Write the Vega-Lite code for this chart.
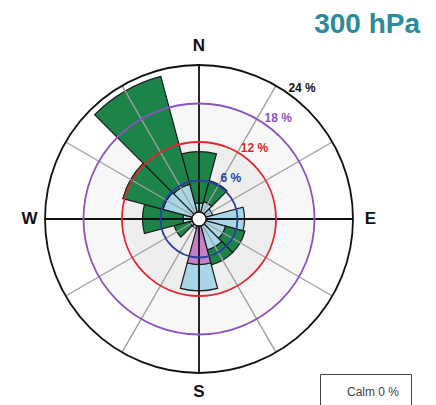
{
  "$schema": "https://vega.github.io/schema/vega-lite/v6.json",
  "autosize": "none",
  "width": 398,
  "height": 366,
  "padding": {"left": 0, "top": 36, "right": 38, "bottom": 3},
  "background": "white",
  "config": {"view": {"stroke": null}, "font": "Liberation Sans"},
  "title": {"text": "300 hPa", "anchor": "end", "frame": "group", "fontSize": 28, "fontWeight": "bold", "color": "#2a8c9a", "font": "Liberation Sans", "dx": 22, "dy": 32, "baseline": "alphabetic", "offset": 7},
  "resolve": {"scale": {"fill": "independent", "stroke": "independent", "strokeWidth": "independent"}},
  "layer": [
    {
      "data": {"values": [{"ring": "r18", "r": 18}, {"ring": "r12", "r": 12}]},
      "mark": {"type": "arc", "theta": 0, "theta2": 6.2832},
      "encoding": {
        "radius": {"field": "r", "type": "quantitative", "stack": null, "scale": {"type": "linear", "domain": [0, 24], "range": [0, 154], "zero": true}},
        "fill": {"field": "ring", "type": "nominal", "scale": {"domain": ["r18", "r12"], "range": ["#f7f7f7", "#eeeeee"]}, "legend": null},
        "order": {"field": "r", "sort": "descending"}
      }
    },
    {
      "data": {"values": [
        {"dir": "N", "from": 345, "to": 375, "cat": "c1", "r0": 0, "r1": 0.8},
        {"dir": "N", "from": 345, "to": 375, "cat": "c2", "r0": 0.8, "r1": 2.5},
        {"dir": "N", "from": 345, "to": 375, "cat": "c3", "r0": 2.5, "r1": 10.5},
        {"dir": "30", "from": 15, "to": 45, "cat": "c1", "r0": 0, "r1": 0.8},
        {"dir": "30", "from": 15, "to": 45, "cat": "c2", "r0": 0.8, "r1": 2.8},
        {"dir": "30", "from": 15, "to": 45, "cat": "c3", "r0": 2.8, "r1": 6.2},
        {"dir": "60", "from": 45, "to": 75, "cat": "c1", "r0": 0, "r1": 0.6},
        {"dir": "60", "from": 45, "to": 75, "cat": "c2", "r0": 0.6, "r1": 2.2},
        {"dir": "E", "from": 75, "to": 105, "cat": "c1", "r0": 0, "r1": 0.8},
        {"dir": "E", "from": 75, "to": 105, "cat": "c2", "r0": 0.8, "r1": 7.1},
        {"dir": "120", "from": 105, "to": 135, "cat": "c2", "r0": 0, "r1": 4.3},
        {"dir": "120", "from": 105, "to": 135, "cat": "c3", "r0": 4.3, "r1": 7.4},
        {"dir": "150", "from": 135, "to": 165, "cat": "c1", "r0": 0, "r1": 0.8},
        {"dir": "150", "from": 135, "to": 165, "cat": "c2", "r0": 0.8, "r1": 5.0},
        {"dir": "150", "from": 135, "to": 165, "cat": "c3", "r0": 5.0, "r1": 7.4},
        {"dir": "S", "from": 165, "to": 195, "cat": "c1", "r0": 0, "r1": 7.1},
        {"dir": "S", "from": 165, "to": 195, "cat": "c2", "r0": 7.1, "r1": 11.2},
        {"dir": "210", "from": 195, "to": 225, "cat": "c1", "r0": 0, "r1": 0.7},
        {"dir": "210", "from": 195, "to": 225, "cat": "c2", "r0": 0.7, "r1": 1.5},
        {"dir": "240", "from": 225, "to": 255, "cat": "c2", "r0": 0, "r1": 1.5},
        {"dir": "240", "from": 225, "to": 255, "cat": "c3", "r0": 1.5, "r1": 4.0},
        {"dir": "W", "from": 255, "to": 285, "cat": "c2", "r0": 0, "r1": 2.5},
        {"dir": "W", "from": 255, "to": 285, "cat": "c3", "r0": 2.5, "r1": 8.8},
        {"dir": "300", "from": 285, "to": 315, "cat": "c1", "r0": 0, "r1": 0.8},
        {"dir": "300", "from": 285, "to": 315, "cat": "c2", "r0": 0.8, "r1": 5.8},
        {"dir": "300", "from": 285, "to": 315, "cat": "c3", "r0": 5.8, "r1": 12.3},
        {"dir": "330", "from": 315, "to": 345, "cat": "c1", "r0": 0, "r1": 1.0},
        {"dir": "330", "from": 315, "to": 345, "cat": "c2", "r0": 1.0, "r1": 5.6},
        {"dir": "330", "from": 315, "to": 345, "cat": "c3", "r0": 5.6, "r1": 23.0}
      ]},
      "mark": {"type": "arc", "stroke": "#1a1a1a", "strokeWidth": 1.2},
      "encoding": {
        "theta": {"field": "from", "type": "quantitative", "stack": null, "scale": {"type": "linear", "domain": [0, 360], "range": [0, 6.283185], "zero": true}},
        "theta2": {"field": "to"},
        "radius": {"field": "r1", "type": "quantitative", "stack": null, "scale": {"type": "linear", "domain": [0, 24], "range": [0, 154], "zero": true}},
        "radius2": {"field": "r0"},
        "fill": {"field": "cat", "type": "nominal", "scale": {"domain": ["c1", "c2", "c3"], "range": ["#c47fc6", "#a7d7e6", "#1c8448"]}, "legend": null}
      }
    },
    {
      "data": {"values": [
        {"dir": 0, "kind": "major", "r": 24}, {"dir": 90, "kind": "major", "r": 24},
        {"dir": 180, "kind": "major", "r": 24}, {"dir": 270, "kind": "major", "r": 24},
        {"dir": 30, "kind": "minor", "r": 24}, {"dir": 60, "kind": "minor", "r": 24},
        {"dir": 120, "kind": "minor", "r": 24}, {"dir": 150, "kind": "minor", "r": 24},
        {"dir": 210, "kind": "minor", "r": 24}, {"dir": 240, "kind": "minor", "r": 24},
        {"dir": 300, "kind": "minor", "r": 24}, {"dir": 330, "kind": "minor", "r": 24}
      ]},
      "mark": {"type": "arc", "fill": null},
      "encoding": {
        "theta": {"field": "dir", "type": "quantitative", "stack": null, "scale": {"type": "linear", "domain": [0, 360], "range": [0, 6.283185], "zero": true}},
        "theta2": {"field": "dir"},
        "radius": {"field": "r", "type": "quantitative", "stack": null, "scale": {"type": "linear", "domain": [0, 24], "range": [0, 154], "zero": true}},
        "stroke": {"field": "kind", "type": "nominal", "scale": {"domain": ["major", "minor"], "range": ["#111111", "#a0a0a0"]}, "legend": null},
        "strokeWidth": {"field": "kind", "type": "nominal", "scale": {"domain": ["major", "minor"], "range": [1.8, 1.4]}, "legend": null},
        "order": {"field": "kind", "sort": "descending"}
      }
    },
    {
      "data": {"values": [
        {"r": 6, "label": "6 %"}, {"r": 12, "label": "12 %"},
        {"r": 18, "label": "18 %"}, {"r": 24, "label": "24 %"}
      ]},
      "mark": {"type": "arc", "theta": 0, "theta2": 6.2832, "fill": null, "strokeWidth": 1.8},
      "encoding": {
        "radius": {"field": "r", "type": "quantitative", "stack": null, "scale": {"type": "linear", "domain": [0, 24], "range": [0, 154], "zero": true}},
        "stroke": {"field": "label", "type": "nominal", "scale": {"domain": ["6 %", "12 %", "18 %", "24 %"], "range": ["#2b3f9e", "#e3262d", "#8b52c0", "#111111"]}, "legend": null}
      }
    },
    {
      "data": {"values": [{"r": 1.1, "calm": "Calm 0 %"}]},
      "mark": {"type": "arc", "theta": 0, "theta2": 6.2832, "stroke": "#111111", "strokeWidth": 1.4},
      "encoding": {
        "radius": {"field": "r", "type": "quantitative", "stack": null, "scale": {"type": "linear", "domain": [0, 24], "range": [0, 154], "zero": true}},
        "fill": {"field": "calm", "type": "nominal", "scale": {"range": ["#ffffff"]},
          "legend": {"title": null, "orient": "none", "legendX": 320, "legendY": 338, "padding": 11, "symbolSize": 196, "symbolOpacity": 0, "symbolStrokeWidth": 0, "labelOffset": 2, "labelFontSize": 12, "labelColor": "#444444", "labelFont": "Liberation Sans", "strokeColor": "#444444",
            "encode": {"legend": {"update": {"strokeWidth": {"value": 2}}}}}}
      }
    },
    {
      "data": {"values": [
        {"r": 6, "label": "6 %"}, {"r": 12, "label": "12 %"},
        {"r": 18, "label": "18 %"}, {"r": 24, "label": "24 %"}
      ]},
      "mark": {"type": "text", "theta": 0.665, "radiusOffset": 13, "fontSize": 12, "fontWeight": "bold", "font": "Liberation Sans", "align": "center", "baseline": "middle"},
      "encoding": {
        "radius": {"field": "r", "type": "quantitative", "stack": null, "scale": {"type": "linear", "domain": [0, 24], "range": [0, 154], "zero": true}},
        "text": {"field": "label"},
        "fill": {"field": "label", "type": "nominal", "scale": {"domain": ["6 %", "12 %", "18 %", "24 %"], "range": ["#2b3f9e", "#e3262d", "#8b52c0", "#111111"]}, "legend": null}
      }
    },
    {
      "data": {"values": [
        {"lab": "N", "dir": 0, "r": 26.9}, {"lab": "E", "dir": 90, "r": 26.7},
        {"lab": "S", "dir": 180, "r": 26.9}, {"lab": "W", "dir": 270, "r": 26.4}
      ]},
      "mark": {"type": "text", "fontSize": 17, "fontWeight": "bold", "font": "Liberation Sans", "align": "center", "baseline": "middle", "color": "#111111"},
      "encoding": {
        "theta": {"field": "dir", "type": "quantitative", "stack": null, "scale": {"type": "linear", "domain": [0, 360], "range": [0, 6.283185], "zero": true}},
        "radius": {"field": "r", "type": "quantitative", "stack": null, "scale": {"type": "linear", "domain": [0, 24], "range": [0, 154], "zero": true}},
        "text": {"field": "lab"}
      }
    }
  ]
}
